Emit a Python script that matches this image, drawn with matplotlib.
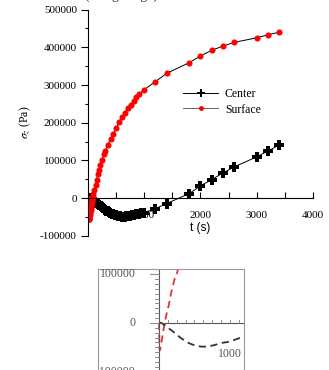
import numpy as np
import matplotlib
matplotlib.use("Agg")
import matplotlib.pyplot as plt
from matplotlib.ticker import MultipleLocator, FixedLocator

plt.rcParams['font.family'] = ['Liberation Serif', 'DejaVu Serif']
plt.rcParams['mathtext.fontset'] = 'stix'
plt.rcParams['axes.unicode_minus'] = False

# center of the sample (black plus markers)
t_center = [0, 25, 50, 75, 100, 125, 150, 175, 200, 225, 250, 275, 300, 325, 350,
            375, 400, 425, 450, 475, 500, 525, 550, 575, 600, 625, 650, 675, 700,
            725, 750, 775, 800, 825, 850, 875, 900, 950, 1000,
            1200, 1400, 1800, 2000, 2200, 2400, 2600, 3000, 3200, 3400]
s_center = [0, 500, -1500, -4000, -7000, -9500, -12500, -15000, -18000, -21000,
            -24000, -27000, -30000, -32500, -35000, -37000, -39500, -41500, -43000,
            -44500, -45500, -46500, -47500, -48000, -48500, -48500, -48500, -48000,
            -47500, -47000, -46500, -45500, -44500, -43500, -42500, -41500, -40500,
            -39500, -38000,
            -27500, -14000, 12400, 32700, 49500, 67000, 83000, 109600, 125000, 141000]

# surface (red circles)
t_surface = [0, 3, 6, 9, 12, 15, 20, 25, 30, 35, 40, 45, 50, 55, 60, 65, 70, 75,
             84, 95, 113, 137, 155, 173, 196, 214, 250, 280, 304, 351, 405, 452,
             506, 554, 607, 655, 708, 762, 810, 857, 911,
             1000, 1200, 1400, 1800, 2000, 2200, 2400, 2600, 3000, 3200, 3400]
s_surface = [0, -25000, -45000, -55000, -56000, -55000, -52000, -48000, -44000,
             -40000, -35000, -30000, -25000, -20000, -16000, -12000, -8000, -4000,
             2000, 10600, 23000, 36000, 49500, 63000, 76000, 87500, 101000, 116000,
             125000, 142000, 157000, 171000, 187000, 201000, 214000, 226000, 239000,
             248000, 258000, 267000, 276000,
             288000, 309000, 331000, 359000, 377000, 392000, 403000, 413000, 425000,
             433000, 440000]

fig = plt.figure(figsize=(3.29, 3.70), dpi=100)

# main plot
ax = fig.add_axes([0.2675, 0.3622, 0.6835, 0.6121])
ax.plot(t_center, s_center, color='black', lw=0.7, marker='P', ms=6.5,
        mec='black', mfc='black', mew=0, label='Center')
ax.plot(t_surface, s_surface, color='black', lw=0.7, marker='o', ms=4.4,
        mfc='red', mec='red', mew=0, label='Surface')
ax.set_xlim(0, 4000)
ax.set_ylim(-100000, 500000)
ax.spines['top'].set_visible(False)
ax.spines['right'].set_visible(False)
ax.spines['bottom'].set_position(('data', 0))
for s in ax.spines.values():
    s.set_linewidth(0.8)
ax.xaxis.set_major_locator(FixedLocator([1000, 2000, 3000, 4000]))
ax.xaxis.set_minor_locator(FixedLocator([500, 1500, 2500, 3500]))
ax.tick_params(axis='x', which='both', direction='in', length=4, width=0.8,
               pad=9, labelsize=8)
ax.yaxis.set_major_locator(MultipleLocator(100000))
ax.yaxis.set_minor_locator(MultipleLocator(50000))
ax.tick_params(axis='y', which='major', direction='out', length=5, width=0.8,
               pad=3, labelsize=8)
ax.tick_params(axis='y', which='minor', direction='out', length=2.5, width=0.8)
ax.set_xlabel('t (s)', family='Liberation Sans', fontsize=8.5, labelpad=1.5)
ax.set_ylabel(r'$\sigma_z$ (Pa)', fontsize=8.5, labelpad=5)
leg = ax.legend(loc='upper left', bbox_to_anchor=(0.556, 0.762),
                bbox_transform=fig.transFigure, frameon=False, fontsize=8.5,
                handlelength=3.0, handletextpad=0.55, borderpad=0,
                borderaxespad=0, labelspacing=0.3, markerscale=0.8)
leg.get_lines()[1].set_color('#666666')

# partly cut caption at the top
fig.text(0.37, 1.004, '(Long range)', ha='center', va='baseline', fontsize=10,
         color='#333333')

# small inset copied below
ins = fig.add_axes([0.298, -0.01, 0.444, 0.283])
ins.plot(t_surface, s_surface, color='#e03535', lw=1.3, ls=(0, (4, 2.5)))
ins.plot(t_center, s_center, color='#333333', lw=1.3, ls=(0, (4, 2.5)))
ins.set_xlim(-860, 1200)
ins.set_ylim(-104000, 110600)
for s in ins.spines.values():
    s.set_color('#999999')
    s.set_linewidth(0.8)
ins.set_xticks([])
ins.set_yticks([])
# axes of the inset drawn inside the frame
ins.axhline(0, xmin=860 / 2060, xmax=1, color='#555555', lw=0.8)
ins.axvline(0, color='#555555', lw=0.8)
for yv in np.arange(-100000, 110001, 10000):
    ln = 50 if yv % 100000 else 130
    ins.plot([-ln, 0], [yv, yv], color='#777777', lw=0.6)
for xv in np.arange(125, 1200, 125):
    ins.plot([xv, xv], [0, 7000], color='#777777', lw=0.6)
for yv, lab in [(100000, '100000'), (0, '0'), (-100000, '-100000')]:
    ins.text(-330, yv, lab, ha='right', va='center', fontsize=8.5,
             color='#555555')
ins.text(1000, -64000, '1000', ha='center', va='center', fontsize=8.5,
         color='#555555')

fig.savefig('out.png', dpi=100)
